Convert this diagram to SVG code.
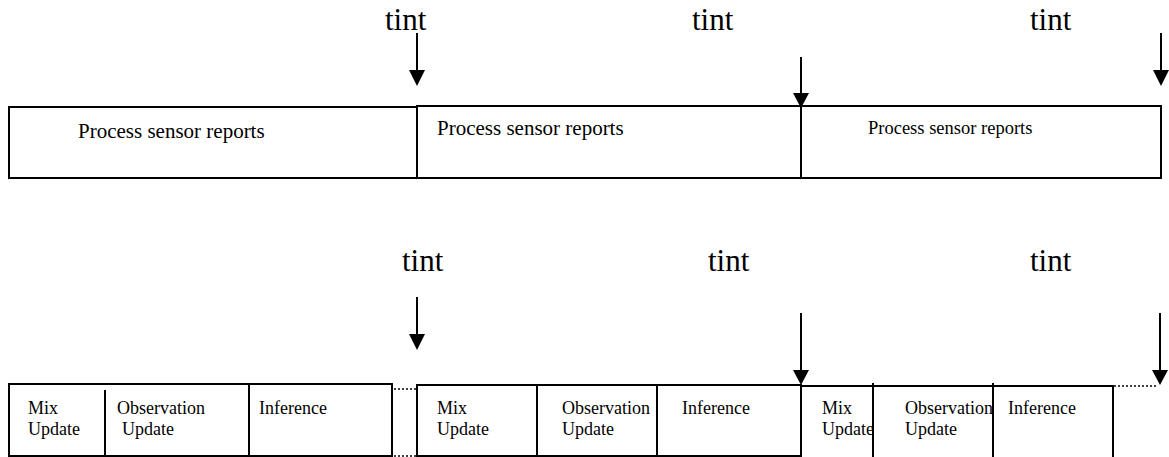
<svg xmlns="http://www.w3.org/2000/svg" width="1169" height="457" viewBox="0 0 1169 457">
  <defs>
    <style>
      .box { fill: none; stroke: #000; stroke-width: 2; }
      .ln { stroke: #000; stroke-width: 2; fill: none; }
      .dot { stroke: #000; stroke-width: 1.5; stroke-dasharray: 2 2; fill: none; }
      .t { font-family: "Liberation Serif", "Times New Roman", serif; fill: #000; }
      .tint { font-size: 31px; }
      .big { font-size: 21px; }
      .mid { font-size: 18.5px; }
      .lab { font-size: 18px; }
      .head { fill: #000; }
    </style>
  </defs>

  <rect width="1169" height="457" fill="#fff"/>

  <!-- interval labels -->
  <g id="tint-top">
    <text class="t tint" x="385" y="30">tint</text>
    <text class="t tint" x="692" y="30">tint</text>
    <text class="t tint" x="1030" y="30">tint</text>
  </g>
  <g id="tint-bottom">
    <text class="t tint" x="402" y="271">tint</text>
    <text class="t tint" x="708" y="271">tint</text>
    <text class="t tint" x="1030" y="271">tint</text>
  </g>

  <!-- upper timeline: sensor report processing -->
  <g id="proc1">
    <rect class="box" x="9" y="107" width="408" height="71"/>
    <text class="t big" x="78" y="138">Process sensor reports</text>
  </g>
  <g id="proc2">
    <rect class="box" x="417" y="106" width="384" height="72"/>
    <text class="t big" x="437" y="135">Process sensor reports</text>
  </g>
  <g id="proc3">
    <rect class="box" x="801" y="106" width="360" height="72"/>
    <text class="t mid" x="868" y="134">Process sensor reports</text>
  </g>

  <!-- lower timeline: update / inference cycles -->
  <g id="cycle1">
    <rect class="box" x="9" y="384" width="383" height="72"/>
    <line class="ln" x1="105" y1="390" x2="105" y2="456"/>
    <line class="ln" x1="249" y1="384" x2="249" y2="456"/>
    <text class="t lab" x="28" y="414">Mix</text>
    <text class="t lab" x="28" y="435">Update</text>
    <text class="t lab" x="117" y="414">Observation</text>
    <text class="t lab" x="122" y="435">Update</text>
    <text class="t lab" x="259" y="414">Inference</text>
  </g>
  <g id="cycle2">
    <rect class="box" x="417" y="385" width="384" height="71"/>
    <line class="ln" x1="537" y1="385" x2="537" y2="456"/>
    <line class="ln" x1="657" y1="385" x2="657" y2="456"/>
    <text class="t lab" x="437" y="414">Mix</text>
    <text class="t lab" x="437" y="435">Update</text>
    <text class="t lab" x="562" y="414">Observation</text>
    <text class="t lab" x="562" y="435">Update</text>
    <text class="t lab" x="682" y="414">Inference</text>
  </g>
  <g id="cycle3">
    <path class="ln" d="M801 458 V386 H1113 V458"/>
    <line class="ln" x1="873" y1="383" x2="873" y2="458"/>
    <line class="ln" x1="993" y1="383" x2="993" y2="458"/>
    <text class="t lab" x="822" y="414">Mix</text>
    <text class="t lab" x="822" y="435">Update</text>
    <text class="t lab" x="905" y="414">Observation</text>
    <text class="t lab" x="905" y="435">Update</text>
    <text class="t lab" x="1008" y="414">Inference</text>
  </g>

  <!-- connectors: interval arrows and idle gaps -->
  <g id="connectors">
    <line class="ln" x1="417" y1="33" x2="417" y2="72"/>
    <path class="head" d="M409 70 L425 70 L417 86 Z"/>
    <line class="ln" x1="801" y1="57" x2="801" y2="95"/>
    <path class="head" d="M793 93 L809 93 L801 108 Z"/>
    <line class="ln" x1="1161" y1="33" x2="1161" y2="72"/>
    <path class="head" d="M1153 70 L1169 70 L1161 86 Z"/>

    <line class="ln" x1="417" y1="297" x2="417" y2="336"/>
    <path class="head" d="M409 334 L425 334 L417 350 Z"/>
    <line class="ln" x1="801" y1="313" x2="801" y2="372"/>
    <path class="head" d="M793 370 L809 370 L801 385 Z"/>
    <line class="ln" x1="1160" y1="313" x2="1160" y2="372"/>
    <path class="head" d="M1152 370 L1168 370 L1160 385 Z"/>

    <line class="dot" x1="394" y1="389" x2="416" y2="389"/>
    <line class="dot" x1="394" y1="456" x2="416" y2="456"/>
    <line class="dot" x1="1114" y1="386" x2="1156" y2="386"/>
  </g>
</svg>
